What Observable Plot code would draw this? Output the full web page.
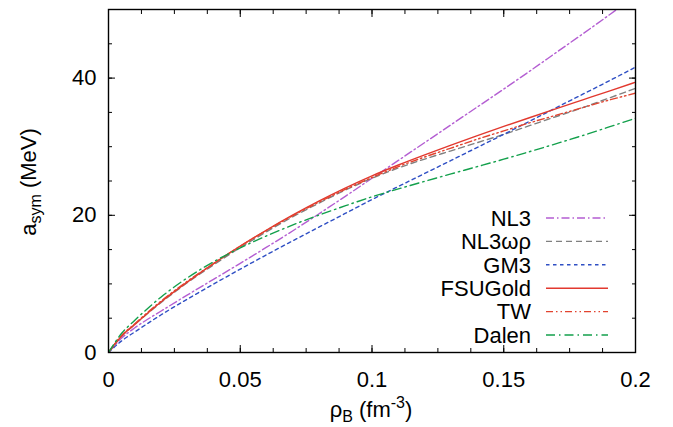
<!DOCTYPE html>
<html>
<head>
<meta charset="utf-8">
<script src="https://cdn.jsdelivr.net/npm/d3@7"></script>
<script src="https://cdn.jsdelivr.net/npm/@observablehq/plot@0.6"></script>
<style>
  body { margin: 0; background: #fff; }
  #chart svg { font-family: "Liberation Sans", Arial, sans-serif; }
</style>
</head>
<body>
<div id="chart"></div>
<script>
// density grid (fm^-3)
const rho = [0, 0.005, 0.01, 0.02, 0.03, 0.04, 0.05, 0.06, 0.07, 0.08, 0.09, 0.10,
             0.11, 0.12, 0.13, 0.14, 0.15, 0.16, 0.17, 0.18, 0.19, 0.20];
// symmetry energy (MeV) per model
const nl3     = [0, 2.1, 3.6, 6.05, 8.4, 10.7, 13.0, 15.35, 17.75, 20.25, 22.8, 25.4, 28.0, 30.6, 33.2, 35.8, 38.4, 41.05, 43.75, 46.45, 49.2, 52.0];
const nl3wr   = [0, 2.4, 4.1, 7.3, 10.2, 12.8, 15.3, 17.6, 19.8, 21.8, 23.7, 25.4, 26.9, 28.2, 29.4, 30.6, 31.8, 33.1, 34.4, 35.7, 37.1, 38.5];
const gm3     = [0, 1.7, 3.0, 5.5, 7.8, 10.0, 12.15, 14.25, 16.3, 18.3, 20.3, 22.3, 24.2, 26.1, 28.0, 29.9, 31.8, 33.75, 35.7, 37.65, 39.6, 41.6];
const fsugold = [0, 2.4, 4.1, 7.4, 10.3, 13.0, 15.5, 17.85, 20.05, 22.1, 24.0, 25.75, 27.33, 28.81, 30.23, 31.61, 32.95, 34.26, 35.55, 36.83, 38.11, 39.4];
const tw      = [0, 2.5, 4.2, 7.5, 10.4, 13.0, 15.5, 17.8, 19.95, 21.95, 23.8, 25.5, 27.1, 28.5, 29.8, 31.1, 32.3, 33.5, 34.6, 35.7, 36.8, 37.8];
const dalen   = [0, 2.8, 4.7, 8.1, 10.9, 13.25, 15.25, 17.0, 18.6, 20.05, 21.4, 22.7, 23.85, 24.95, 26.03, 27.1, 28.18, 29.3, 30.45, 31.63, 32.88, 34.15];

const models = ["NL3", "NL3ωρ", "GM3", "FSUGold", "TW", "Dalen"];
const values = [nl3, nl3wr, gm3, fsugold, tw, dalen];
const colors = ["#b45ed2", "#808080", "#2f4fc4", "#e2392f", "#e2432f", "#13a04c"];
const dashes = ["8,3,1.5,3", "6,4", "3.5,3.5", null, "7,3,1.5,3,1.5,3", "9,4,1.5,4"];

const xMajor = [0, 0.05, 0.1, 0.15, 0.2];
const xMinor = d3.range(0, 0.2001, 0.0125);
const yMajor = [0, 20, 40];
const yMinor = d3.range(0, 50.01, 5);

const series = models.map((m, i) => rho.map((r, j) => ({model: m, rho: r, asym: values[i][j]})));

const W = 673, H = 427;
const fs = 22;

const tickAxes = [];
for (const anchor of ["bottom", "top"]) {
  tickAxes.push(Plot.axisX(xMinor, {anchor, text: null, label: null, tickSize: -4, strokeWidth: 1}));
  tickAxes.push(Plot.axisX(xMajor, {anchor, text: null, label: null, tickSize: -7, strokeWidth: 1}));
}
for (const anchor of ["left", "right"]) {
  tickAxes.push(Plot.axisY(yMinor, {anchor, text: null, label: null, tickSize: -4, strokeWidth: 1}));
  tickAxes.push(Plot.axisY(yMajor, {anchor, text: null, label: null, tickSize: -7, strokeWidth: 1}));
}

const plot = Plot.plot({
  width: W,
  height: H,
  marginLeft: 108,
  marginRight: 38,
  marginTop: 9,
  marginBottom: 75,
  style: {fontFamily: "Liberation Sans, Arial, sans-serif", fontSize: fs + "px", background: "#fff", color: "#000"},
  x: {domain: [0, 0.2]},
  y: {domain: [0, 50]},
  marks: [
    ...series.map((s, i) => Plot.line(s, {
      x: "rho", y: "asym", stroke: colors[i], strokeWidth: 1.4,
      strokeDasharray: dashes[i] ?? undefined, curve: "monotone-x", clip: true
    })),
    Plot.axisX(xMajor, {anchor: "bottom", tickSize: 0, tickPadding: 19, fontSize: fs,
      tickFormat: d => String(d), label: null}),
    Plot.axisY(yMajor, {anchor: "left", tickSize: 0, tickPadding: 12, fontSize: fs,
      tickFormat: d => String(d), label: null}),
    ...tickAxes,
    Plot.frame({stroke: "#000", strokeWidth: 1.4})
  ]
});

document.getElementById("chart").appendChild(plot);

// Axis titles and legend (with sub/superscripts)
const svg = d3.select(plot);
const yt = svg.append("text")
  .attr("transform", "translate(36,182) rotate(-90)")
  .attr("text-anchor", "middle")
  .attr("font-size", fs).attr("fill", "#000");
yt.append("tspan").text("a");
yt.append("tspan").attr("font-size", 16).attr("dy", 5).text("sym");
yt.append("tspan").attr("dy", -5).text(" (MeV)");

const xt = svg.append("text")
  .attr("x", 371).attr("y", 417)
  .attr("text-anchor", "middle")
  .attr("font-size", fs).attr("fill", "#000");
xt.append("tspan").text("ρ");
xt.append("tspan").attr("font-size", 16).attr("dy", 5).text("B");
xt.append("tspan").attr("dy", -5).text(" (fm");
xt.append("tspan").attr("font-size", 16).attr("dy", -9).text("-3");
xt.append("tspan").attr("dy", 9).text(")");

const lg = svg.append("g");
models.forEach((m, i) => {
  const yy = 218 + i * 23.4;
  lg.append("text").attr("x", 531).attr("y", yy).attr("dy", "0.35em")
    .attr("text-anchor", "end").attr("font-size", fs).attr("fill", "#000").text(m);
  const ln = lg.append("line").attr("x1", 546).attr("x2", 608).attr("y1", yy).attr("y2", yy)
    .attr("stroke", colors[i]).attr("stroke-width", 1.4);
  if (dashes[i]) ln.attr("stroke-dasharray", dashes[i]);
});
</script>
</body>
</html>
